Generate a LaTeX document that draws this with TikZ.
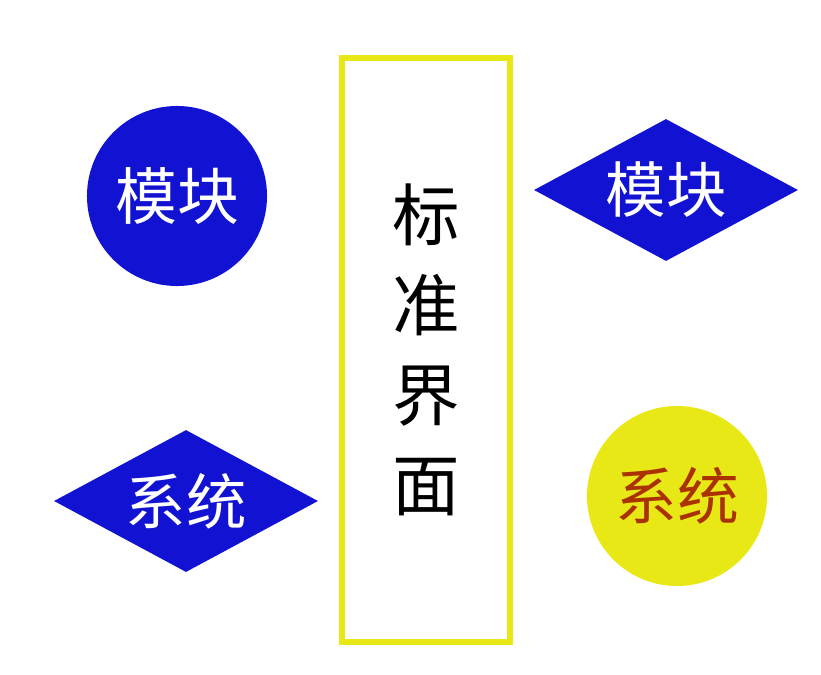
\documentclass[tikz,border=0pt]{standalone}
\usepackage{fontspec}
\newfontfamily\cjk{Noto Sans CJK SC}
\definecolor{ifblue}{RGB}{18,18,210}
\definecolor{ifyellow}{RGB}{232,232,22}
\definecolor{ifrust}{RGB}{170,50,0}
\usetikzlibrary{shapes.geometric}

\begin{document}
\begin{tikzpicture}[
  x=0.025cm, y=-0.025cm,
  roundpart/.style={
    circle, minimum size=4.5cm, inner sep=0pt,
    font=\cjk\fontsize{44}{50}\selectfont
  },
  flatpart/.style={
    diamond, aspect=1.85, inner sep=0pt,
    minimum width=6.6cm, minimum height=3.55cm,
    fill=ifblue, text=white,
    font=\cjk\fontsize{43}{50}\selectfont
  },
  stdface/.style={
    rectangle, draw=ifyellow, line width=4pt,
    minimum width=4.2cm, minimum height=14.6cm,
    font=\cjk\fontsize{48}{64}\selectfont,
    align=center
  }
]
\useasboundingbox (0,0) rectangle (821,675);

\node[roundpart, fill=ifblue, text=white]      (modL) at (177,196) {模块};
\node[flatpart]                                 (sysL) at (186,501) {系统};
\node[stdface]                                  (face) at (426,350) {标\\准\\界\\面};
\node[flatpart]                                 (modR) at (666,190) {模块};
\node[roundpart, fill=ifyellow, text=ifrust]   (sysR) at (677,496) {系统};
\end{tikzpicture}
\end{document}
